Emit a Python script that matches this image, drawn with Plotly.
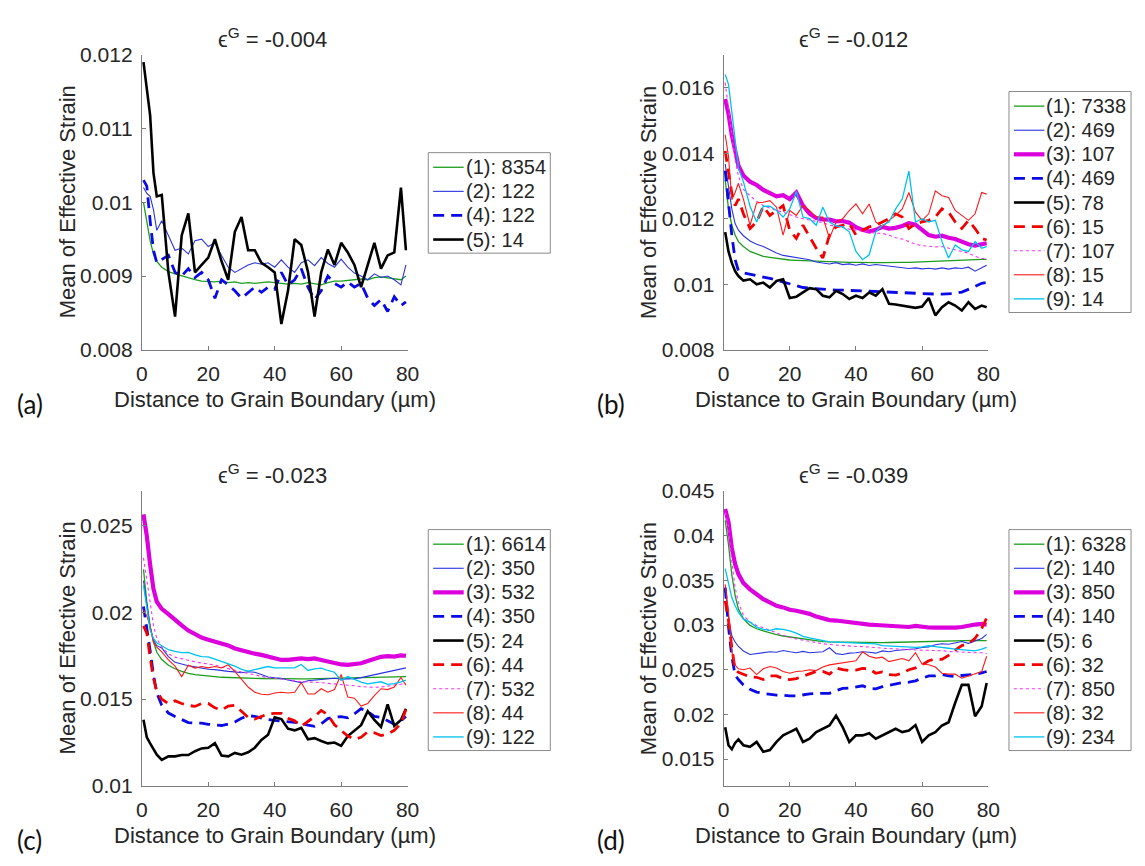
import plotly.graph_objects as go

# ---------------- data ----------------
X = [0.5, 1.5, 2.5, 3.5, 4.5,
     6, 8, 10, 12, 14, 16, 18, 20,
     22, 24, 26, 28, 30, 32, 34, 36,
     38, 40, 42, 44, 46, 48, 50, 52,
     54, 56, 58, 60, 62, 64, 66, 68,
     70, 72, 74, 76, 78,
     79.5]

X_TICKS = [0, 20, 40, 60, 80]

# panel (a)  eps = -0.004
A_KEYS = [1, 2, 4, 5]
A_LABELS = ["(1): 8354", "(2): 122", "(4): 122", "(5): 14"]
A1 = [0.01000, 0.00972, 0.00948, 0.00930, 0.00920,
      0.00912, 0.00906, 0.00903, 0.00900, 0.00897, 0.00895, 0.00893, 0.00892,
      0.00892, 0.00893, 0.00891, 0.00892, 0.00890, 0.00891, 0.00890, 0.00891,
      0.00892, 0.00891, 0.00890, 0.00889, 0.00890, 0.00889, 0.00891, 0.00889,
      0.00888, 0.00891, 0.00893, 0.00893, 0.00894, 0.00895, 0.00896, 0.00895,
      0.00898, 0.00899, 0.00898, 0.00896, 0.00895,
      0.00900]
A2 = [0.01020, 0.01012, 0.01008, 0.00990, 0.00962,
      0.00975, 0.00955, 0.00935, 0.00938, 0.00930, 0.00948, 0.00950, 0.00940,
      0.00945, 0.00928, 0.00912, 0.00905, 0.00910, 0.00915, 0.00918, 0.00916,
      0.00918, 0.00912, 0.00922, 0.00912, 0.00905, 0.00918, 0.00922, 0.00914,
      0.00925, 0.00917, 0.00912, 0.00923, 0.00912, 0.00904, 0.00900, 0.00895,
      0.00903, 0.00898, 0.00900, 0.00895, 0.00888,
      0.00915]
A4 = [0.01030, 0.01022, 0.00975, 0.00935, 0.00918,
      0.00922, 0.00928, 0.00905, 0.00900, 0.00910, 0.00898, 0.00905, 0.00895,
      0.00870, 0.00895, 0.00888, 0.00880, 0.00870, 0.00878, 0.00885, 0.00878,
      0.00885, 0.00882, 0.00905, 0.00888, 0.00895, 0.00910, 0.00885, 0.00868,
      0.00880, 0.00900, 0.00890, 0.00885, 0.00892, 0.00885, 0.00890, 0.00870,
      0.00860, 0.00868, 0.00852, 0.00872, 0.00860,
      0.00865]
A5 = [0.01190, 0.01155, 0.01118, 0.01040, 0.01008,
      0.01010, 0.00905, 0.00845, 0.00955, 0.00985, 0.00905, 0.00915, 0.00925,
      0.00950, 0.00920, 0.00895, 0.00960, 0.00980, 0.00935, 0.00935, 0.00918,
      0.00912, 0.00905, 0.00835, 0.00880, 0.00950, 0.00942, 0.00906, 0.00845,
      0.00905, 0.00936, 0.00915, 0.00945, 0.00932, 0.00915, 0.00885, 0.00915,
      0.00945, 0.00910, 0.00928, 0.00932, 0.01020,
      0.00935]

# panel (b)  eps = -0.012
B_KEYS = [1, 2, 3, 4, 5, 6, 7, 8, 9]
B_LABELS = ["(1): 7338", "(2): 469", "(3): 107", "(4): 469", "(5): 78",
            "(6): 15", "(7): 107", "(8): 15", "(9): 14"]
B1 = [0.01318, 0.01230, 0.01180, 0.01150, 0.01130,
      0.01115, 0.01100, 0.01092, 0.01085, 0.01082, 0.01079, 0.01076, 0.01074,
      0.01073, 0.01072, 0.01071, 0.01070, 0.01069, 0.01068, 0.01068, 0.01067,
      0.01067, 0.01067, 0.01066, 0.01066, 0.01066, 0.01066, 0.01067, 0.01067,
      0.01067, 0.01067, 0.01068, 0.01068, 0.01068, 0.01069, 0.01070, 0.01071,
      0.01072, 0.01073, 0.01074, 0.01075, 0.01076,
      0.01076]
B2 = [0.01367, 0.01300, 0.01230, 0.01185, 0.01165,
      0.01148, 0.01132, 0.01122, 0.01115, 0.01105, 0.01095, 0.01088, 0.01085,
      0.01082, 0.01080, 0.01075, 0.01068, 0.01065, 0.01062, 0.01066, 0.01060,
      0.01062, 0.01058, 0.01062, 0.01057, 0.01060, 0.01058, 0.01056, 0.01053,
      0.01052, 0.01048, 0.01050, 0.01047, 0.01049, 0.01046, 0.01050, 0.01046,
      0.01050, 0.01048, 0.01052, 0.01040, 0.01050,
      0.01058]
B3 = [0.01565, 0.01520, 0.01455, 0.01400, 0.01362,
      0.01332, 0.01313, 0.01303, 0.01288, 0.01278, 0.01268, 0.01272, 0.01260,
      0.01280, 0.01240, 0.01215, 0.01202, 0.01198, 0.01197, 0.01192, 0.01193,
      0.01188, 0.01174, 0.01166, 0.01161, 0.01166, 0.01175, 0.01170, 0.01172,
      0.01178, 0.01186, 0.01182, 0.01165, 0.01150, 0.01145, 0.01148, 0.01142,
      0.01138, 0.01130, 0.01122, 0.01118, 0.01122,
      0.01125]
B4 = [0.01347, 0.01240, 0.01150, 0.01075, 0.01041,
      0.01035, 0.01030, 0.01025, 0.01022, 0.01018, 0.01012, 0.01008, 0.01000,
      0.00995, 0.00990, 0.00988, 0.00986, 0.00985, 0.00983, 0.00982, 0.00982,
      0.00981, 0.00981, 0.00980, 0.00980, 0.00979, 0.00978, 0.00977, 0.00976,
      0.00975, 0.00974, 0.00973, 0.00972, 0.00971, 0.00970, 0.00970, 0.00970,
      0.00972, 0.00976, 0.00984, 0.00993, 0.01003,
      0.01005]
B5 = [0.01159, 0.01100, 0.01065, 0.01040, 0.01025,
      0.01011, 0.01015, 0.01000, 0.01005, 0.00990, 0.01010, 0.01015, 0.00958,
      0.00962, 0.00975, 0.00988, 0.00985, 0.00965, 0.00960, 0.00980, 0.00970,
      0.00955, 0.00965, 0.00958, 0.00975, 0.00965, 0.00985, 0.00940, 0.00938,
      0.00935, 0.00932, 0.00928, 0.00932, 0.00958, 0.00905, 0.00930, 0.00945,
      0.00935, 0.00920, 0.00945, 0.00925, 0.00935,
      0.00930]
B6 = [0.01407, 0.01340, 0.01278, 0.01240, 0.01260,
      0.01215, 0.01170, 0.01190, 0.01238, 0.01210, 0.01225, 0.01240, 0.01165,
      0.01140, 0.01180, 0.01145, 0.01110, 0.01080, 0.01150, 0.01175, 0.01180,
      0.01185, 0.01150, 0.01165, 0.01175, 0.01180, 0.01190, 0.01200, 0.01215,
      0.01205, 0.01170, 0.01185, 0.01190, 0.01195, 0.01205, 0.01230, 0.01220,
      0.01190, 0.01170, 0.01195, 0.01170, 0.01140,
      0.01135]
B7 = [0.01615, 0.01540, 0.01450, 0.01380, 0.01330,
      0.01290, 0.01270, 0.01253, 0.01240, 0.01232, 0.01225, 0.01220, 0.01212,
      0.01205, 0.01200, 0.01195, 0.01192, 0.01188, 0.01180, 0.01178, 0.01172,
      0.01168, 0.01165, 0.01162, 0.01158, 0.01156, 0.01155, 0.01150, 0.01142,
      0.01138, 0.01130, 0.01122, 0.01118, 0.01115, 0.01114, 0.01115, 0.01110,
      0.01105, 0.01100, 0.01095, 0.01085, 0.01078,
      0.01080]
B8 = [0.01456, 0.01390, 0.01258, 0.01280, 0.01308,
      0.01260, 0.01180, 0.01248, 0.01250, 0.01255, 0.01235, 0.01150, 0.01225,
      0.01210, 0.01240, 0.01225, 0.01205, 0.01205, 0.01140, 0.01190, 0.01200,
      0.01225, 0.01245, 0.01215, 0.01245, 0.01190, 0.01175, 0.01195, 0.01210,
      0.01230, 0.01280, 0.01220, 0.01195, 0.01215, 0.01285, 0.01270, 0.01265,
      0.01225, 0.01210, 0.01195, 0.01215, 0.01280,
      0.01275]
B9 = [0.01640, 0.01610, 0.01526, 0.01430, 0.01355,
      0.01313, 0.01238, 0.01190, 0.01238, 0.01238, 0.01225, 0.01205, 0.01230,
      0.01283, 0.01205, 0.01200, 0.01180, 0.01235, 0.01190, 0.01178, 0.01175,
      0.01160, 0.01100, 0.01075, 0.01090, 0.01160, 0.01180, 0.01190, 0.01230,
      0.01260, 0.01345, 0.01190, 0.01200, 0.01190, 0.01195, 0.01130, 0.01080,
      0.01120, 0.01105, 0.01100, 0.01130, 0.01110,
      0.01115]

# panel (c)  eps = -0.023
C_KEYS = [1, 2, 3, 4, 5, 6, 7, 8, 9]
C_LABELS = ["(1): 6614", "(2): 350", "(3): 532", "(4): 350", "(5): 24",
            "(6): 44", "(7): 532", "(8): 44", "(9): 122"]
C1 = [0.02248, 0.02060, 0.01920, 0.01830, 0.01770,
      0.01728, 0.01695, 0.01675, 0.01660, 0.01648, 0.01641, 0.01636, 0.01633,
      0.01630, 0.01626, 0.01624, 0.01622, 0.01621, 0.01620, 0.01620, 0.01619,
      0.01618, 0.01618, 0.01617, 0.01617, 0.01617, 0.01617, 0.01617, 0.01618,
      0.01618, 0.01619, 0.01620, 0.01621, 0.01622, 0.01623, 0.01624, 0.01625,
      0.01627, 0.01628, 0.01629, 0.01630, 0.01630,
      0.01630]
C2 = [0.02183, 0.02060, 0.01915, 0.01840, 0.01808,
      0.01795, 0.01745, 0.01712, 0.01700, 0.01692, 0.01686, 0.01677, 0.01672,
      0.01670, 0.01664, 0.01660, 0.01657, 0.01652, 0.01658, 0.01655, 0.01642,
      0.01628, 0.01623, 0.01620, 0.01610, 0.01602, 0.01595, 0.01606, 0.01610,
      0.01614, 0.01618, 0.01620, 0.01615, 0.01615, 0.01618, 0.01624, 0.01632,
      0.01640, 0.01647, 0.01655, 0.01665, 0.01675,
      0.01680]
C3 = [0.02565, 0.02440, 0.02275, 0.02135, 0.02062,
      0.02020, 0.01990, 0.01955, 0.01925, 0.01895, 0.01875, 0.01855, 0.01842,
      0.01833, 0.01825, 0.01810, 0.01792, 0.01780, 0.01770, 0.01762, 0.01755,
      0.01745, 0.01735, 0.01726, 0.01726, 0.01730, 0.01735, 0.01731, 0.01735,
      0.01726, 0.01716, 0.01710, 0.01700, 0.01698, 0.01702, 0.01707, 0.01720,
      0.01735, 0.01744, 0.01748, 0.01745, 0.01752,
      0.01750]
C4 = [0.02034, 0.01920, 0.01780, 0.01640, 0.01535,
      0.01465, 0.01420, 0.01400, 0.01382, 0.01365, 0.01362, 0.01362, 0.01355,
      0.01350, 0.01348, 0.01356, 0.01368, 0.01390, 0.01405, 0.01400, 0.01390,
      0.01382, 0.01378, 0.01374, 0.01371, 0.01368, 0.01362, 0.01350, 0.01343,
      0.01358, 0.01388, 0.01396, 0.01399, 0.01392, 0.01415, 0.01445, 0.01428,
      0.01400, 0.01395, 0.01375, 0.01355, 0.01375,
      0.01400]
C5 = [0.01381, 0.01280, 0.01245, 0.01213, 0.01180,
      0.01150, 0.01170, 0.01170, 0.01178, 0.01178, 0.01200, 0.01216, 0.01220,
      0.01246, 0.01175, 0.01170, 0.01190, 0.01180, 0.01194, 0.01220, 0.01265,
      0.01295, 0.01395, 0.01385, 0.01330, 0.01320, 0.01334, 0.01269, 0.01275,
      0.01259, 0.01245, 0.01250, 0.01231, 0.01287, 0.01320, 0.01350, 0.01430,
      0.01380, 0.01340, 0.01470, 0.01345, 0.01380,
      0.01445]
C6 = [0.01922, 0.01880, 0.01740, 0.01620, 0.01545,
      0.01500, 0.01474, 0.01490, 0.01475, 0.01464, 0.01458, 0.01475, 0.01475,
      0.01450, 0.01437, 0.01460, 0.01465, 0.01430, 0.01395, 0.01385, 0.01400,
      0.01415, 0.01418, 0.01418, 0.01390, 0.01375, 0.01343, 0.01371, 0.01399,
      0.01435, 0.01410, 0.01352, 0.01318, 0.01287, 0.01268, 0.01280, 0.01312,
      0.01306, 0.01290, 0.01300, 0.01320, 0.01360,
      0.01440]
C7 = [0.02314, 0.02200, 0.02060, 0.01925, 0.01850,
      0.01800, 0.01760, 0.01742, 0.01732, 0.01724, 0.01715, 0.01708, 0.01702,
      0.01697, 0.01685, 0.01675, 0.01665, 0.01655, 0.01648, 0.01640, 0.01632,
      0.01623, 0.01620, 0.01617, 0.01612, 0.01605, 0.01600, 0.01598, 0.01598,
      0.01595, 0.01590, 0.01586, 0.01583, 0.01580, 0.01577, 0.01572, 0.01568,
      0.01568, 0.01570, 0.01575, 0.01578, 0.01585,
      0.01590]
C8 = [0.02015, 0.01980, 0.01920, 0.01828, 0.01800,
      0.01772, 0.01726, 0.01690, 0.01630, 0.01695, 0.01679, 0.01688, 0.01680,
      0.01688, 0.01680, 0.01698, 0.01660, 0.01615, 0.01570, 0.01540, 0.01528,
      0.01525, 0.01535, 0.01540, 0.01535, 0.01540, 0.01595, 0.01530, 0.01530,
      0.01560, 0.01540, 0.01555, 0.01642, 0.01512, 0.01505, 0.01460, 0.01475,
      0.01520, 0.01560, 0.01555, 0.01570, 0.01625,
      0.01580]
C9 = [0.02155, 0.02030, 0.01900, 0.01850, 0.01825,
      0.01808, 0.01785, 0.01775, 0.01768, 0.01770, 0.01755, 0.01745, 0.01744,
      0.01730, 0.01716, 0.01705, 0.01690, 0.01672, 0.01662, 0.01670, 0.01680,
      0.01688, 0.01680, 0.01680, 0.01679, 0.01680, 0.01700, 0.01665, 0.01675,
      0.01679, 0.01665, 0.01655, 0.01608, 0.01630, 0.01614, 0.01598, 0.01588,
      0.01592, 0.01600, 0.01585, 0.01590, 0.01600,
      0.01610]

# panel (d)  eps = -0.039
D_KEYS = [1, 2, 3, 4, 5, 6, 7, 8, 9]
D_LABELS = ["(1): 6328", "(2): 140", "(3): 850", "(4): 140", "(5): 6",
            "(6): 32", "(7): 850", "(8): 32", "(9): 234"]
D1 = [0.04170, 0.03900, 0.03564, 0.03330, 0.03180,
      0.03070, 0.02995, 0.02958, 0.02935, 0.02910, 0.02893, 0.02877, 0.02866,
      0.02858, 0.02848, 0.02838, 0.02828, 0.02815, 0.02812, 0.02810, 0.02808,
      0.02806, 0.02804, 0.02802, 0.02800, 0.02800, 0.02802, 0.02804, 0.02806,
      0.02808, 0.02810, 0.02812, 0.02813, 0.02815, 0.02817, 0.02820, 0.02822,
      0.02825, 0.02828, 0.02830, 0.02828, 0.02825,
      0.02825]
D2 = [0.03417, 0.03087, 0.02880, 0.02810, 0.02760,
      0.02710, 0.02670, 0.02680, 0.02690, 0.02700, 0.02695, 0.02715, 0.02700,
      0.02690, 0.02705, 0.02690, 0.02695, 0.02700, 0.02745, 0.02680, 0.02670,
      0.02685, 0.02690, 0.02700, 0.02695, 0.02685, 0.02710, 0.02700, 0.02715,
      0.02720, 0.02725, 0.02735, 0.02748, 0.02755, 0.02780, 0.02790, 0.02785,
      0.02800, 0.02815, 0.02795, 0.02820, 0.02850,
      0.02895]
D3 = [0.04298, 0.04150, 0.03860, 0.03680, 0.03570,
      0.03470, 0.03399, 0.03344, 0.03289, 0.03252, 0.03215, 0.03197, 0.03170,
      0.03160, 0.03142, 0.03125, 0.03094, 0.03070, 0.03055, 0.03050, 0.03040,
      0.03030, 0.03015, 0.03008, 0.03005, 0.03000, 0.02995, 0.02988, 0.02980,
      0.02975, 0.02978, 0.02990, 0.02978, 0.02972, 0.02970, 0.02970, 0.02965,
      0.02970, 0.02978, 0.02995, 0.03005, 0.03012,
      0.03005]
D4 = [0.03417, 0.02980, 0.02650, 0.02440, 0.02390,
      0.02330, 0.02280, 0.02250, 0.02235, 0.02225, 0.02215, 0.02215, 0.02206,
      0.02206, 0.02220, 0.02230, 0.02236, 0.02236, 0.02236, 0.02265, 0.02290,
      0.02295, 0.02310, 0.02320, 0.02290, 0.02285, 0.02310, 0.02325, 0.02335,
      0.02355, 0.02360, 0.02375, 0.02405, 0.02430, 0.02430, 0.02445, 0.02430,
      0.02425, 0.02435, 0.02440, 0.02450, 0.02465,
      0.02480]
D5 = [0.01857, 0.01655, 0.01610, 0.01680, 0.01720,
      0.01655, 0.01637, 0.01692, 0.01582, 0.01600, 0.01692, 0.01765, 0.01802,
      0.01839, 0.01692, 0.01728, 0.01802, 0.01839, 0.01876, 0.01986, 0.01857,
      0.01692, 0.01765, 0.01765, 0.01790, 0.01728, 0.01765, 0.01802, 0.01839,
      0.01802, 0.01820, 0.01880, 0.01692, 0.01765, 0.01800, 0.01876, 0.01912,
      0.02130, 0.02330, 0.02330, 0.01980, 0.02090,
      0.02350]
D6 = [0.03270, 0.03050, 0.02750, 0.02500, 0.02470,
      0.02445, 0.02420, 0.02415, 0.02390, 0.02430, 0.02430, 0.02400, 0.02390,
      0.02400, 0.02425, 0.02455, 0.02480, 0.02480, 0.02450, 0.02520, 0.02500,
      0.02490, 0.02495, 0.02515, 0.02510, 0.02460, 0.02475, 0.02445, 0.02440,
      0.02460, 0.02500, 0.02520, 0.02555, 0.02600, 0.02620, 0.02615, 0.02660,
      0.02720, 0.02770, 0.02790, 0.02850, 0.02960,
      0.03080]
D7 = [0.04261, 0.04100, 0.03711, 0.03420, 0.03250,
      0.03110, 0.03032, 0.02995, 0.02970, 0.02945, 0.02912, 0.02885, 0.02860,
      0.02845, 0.02830, 0.02820, 0.02800, 0.02790, 0.02782, 0.02775, 0.02768,
      0.02765, 0.02760, 0.02758, 0.02755, 0.02748, 0.02740, 0.02738, 0.02736,
      0.02732, 0.02725, 0.02720, 0.02718, 0.02720, 0.02718, 0.02712, 0.02705,
      0.02700, 0.02695, 0.02690, 0.02690, 0.02690,
      0.02680]
D8 = [0.03454, 0.03150, 0.02700, 0.02550, 0.02510,
      0.02500, 0.02518, 0.02445, 0.02510, 0.02535, 0.02520, 0.02480, 0.02460,
      0.02480, 0.02485, 0.02500, 0.02490, 0.02530, 0.02554, 0.02565, 0.02575,
      0.02585, 0.02600, 0.02700, 0.02650, 0.02630, 0.02640, 0.02590, 0.02605,
      0.02625, 0.02600, 0.02690, 0.02560, 0.02555, 0.02530, 0.02460, 0.02450,
      0.02450, 0.02405, 0.02430, 0.02450, 0.02480,
      0.02650]
D9 = [0.03630, 0.03480, 0.03307, 0.03215, 0.03142,
      0.03068, 0.03032, 0.02977, 0.02950, 0.02940, 0.02958, 0.02950, 0.02935,
      0.02910, 0.02874, 0.02855, 0.02840, 0.02830, 0.02812, 0.02808, 0.02805,
      0.02800, 0.02798, 0.02796, 0.02795, 0.02790, 0.02770, 0.02765, 0.02760,
      0.02756, 0.02752, 0.02750, 0.02756, 0.02768, 0.02758, 0.02745, 0.02740,
      0.02730, 0.02722, 0.02715, 0.02710, 0.02730,
      0.02750]

Y_TICKS_A = [0.008, 0.009, 0.010, 0.011, 0.012]
Y_TEXT_A = ["0.008", "0.009", "0.01", "0.011", "0.012"]
Y_TICKS_B = [0.008, 0.010, 0.012, 0.014, 0.016]
Y_TEXT_B = ["0.008", "0.01", "0.012", "0.014", "0.016"]
Y_TICKS_C = [0.010, 0.015, 0.020, 0.025]
Y_TEXT_C = ["0.01", "0.015", "0.02", "0.025"]
Y_TICKS_D = [0.015, 0.020, 0.025, 0.030, 0.035, 0.040, 0.045]
Y_TEXT_D = ["0.015", "0.02", "0.025", "0.03", "0.035", "0.04", "0.045"]

TITLES = ["ϵ<sup>G</sup> = -0.004", "ϵ<sup>G</sup> = -0.012",
          "ϵ<sup>G</sup> = -0.023", "ϵ<sup>G</sup> = -0.039"]
TAGS = ["(a)", "(b)", "(c)", "(d)"]
X_TITLE = "Distance to Grain Boundary (µm)"
Y_TITLE = "Mean of Effective Strain"

# ---------------- styles ----------------
STYLE = {
    1: dict(color="#1c9e1c", width=1.3, dash="solid"),
    2: dict(color="#2a35e0", width=1.1, dash="solid"),
    3: dict(color="#dc00dc", width=4.2, dash="solid"),
    4: dict(color="#0a0ae6", width=2.8, dash="11px,7px"),
    5: dict(color="#000000", width=2.6, dash="solid"),
    6: dict(color="#f20000", width=2.8, dash="11px,7px"),
    7: dict(color="#ff2cff", width=1.1, dash="3px,3px"),
    8: dict(color="#ff1a1a", width=1.1, dash="solid"),
    9: dict(color="#00c2ee", width=1.3, dash="solid"),
}

W, H = 1145, 866
FONT = "Liberation Sans, Arial, Helvetica, sans-serif"
TXT = "#262626"
AXC = "#7d7d7d"
ROW = 24.75


def fx(px):
    return px / W


def fy(py):
    return 1 - py / H


PANELS = [
    dict(series=[A1, A2, A4, A5], keys=A_KEYS, labels=A_LABELS, yr=[0.008, 0.012],
         yt=Y_TICKS_A, ytt=Y_TEXT_A, box=(138, 408, 44, 347), leg=(429, 159.5), ax=""),
    dict(series=[B1, B2, B3, B4, B5, B6, B7, B8, B9], keys=B_KEYS, labels=B_LABELS,
         yr=[0.008, 0.017], yt=Y_TICKS_B, ytt=Y_TEXT_B, box=(729, 998, 44, 347),
         leg=(1019, 96.7), ax="2"),
    dict(series=[C1, C2, C3, C4, C5, C6, C7, C8, C9], keys=C_KEYS, labels=C_LABELS,
         yr=[0.010, 0.027], yt=Y_TICKS_C, ytt=Y_TEXT_C, box=(138, 408, 492, 795),
         leg=(429, 546.7), ax="3"),
    dict(series=[D1, D2, D3, D4, D5, D6, D7, D8, D9], keys=D_KEYS, labels=D_LABELS,
         yr=[0.012, 0.045], yt=Y_TICKS_D, ytt=Y_TEXT_D, box=(729, 998, 492, 795),
         leg=(1019, 546.7), ax="4"),
]

fig = go.Figure()
layout = dict(width=W, height=H, margin=dict(l=0, r=0, t=0, b=0),
              paper_bgcolor="white", plot_bgcolor="white", showlegend=False,
              font=dict(family=FONT, color=TXT))
annotations = []
shapes = []

for i, p in enumerate(PANELS):
    ax = p["ax"]
    x0, x1, y0, y1 = p["box"]
    for vals, k, lab in zip(p["series"], p["keys"], p["labels"]):
        st = STYLE[k]
        fig.add_trace(go.Scatter(
            x=X, y=vals, mode="lines", name=lab,
            line=dict(color=st["color"], width=st["width"], dash=st["dash"]),
            xaxis="x" + ax, yaxis="y" + ax, hoverinfo="skip", showlegend=False))
    common = dict(showline=True, linecolor=AXC, linewidth=1, mirror=False,
                  ticks="inside", ticklen=4, tickcolor=AXC, showgrid=False,
                  zeroline=False, tickfont=dict(size=21, color=TXT, family=FONT))
    layout["xaxis" + ax] = dict(domain=[fx(x0), fx(x1)], range=[0, 80],
                                tickvals=X_TICKS, anchor="y" + ax,
                                ticklabelstandoff=5, **common)
    layout["yaxis" + ax] = dict(domain=[fy(y1), fy(y0)], range=p["yr"],
                                tickvals=p["yt"], ticktext=p["ytt"],
                                anchor="x" + ax, ticklabelstandoff=4, **common)

    # legend drawn as a box with line samples and text entries
    lx, ly = p["leg"]
    n = len(p["keys"])
    shapes.append(dict(type="rect", xref="paper", yref="paper",
                       x0=fx(lx), x1=fx(lx + 124), y0=fy(ly - 15),
                       y1=fy(ly + (n - 1) * ROW + 14),
                       line=dict(color="#8a8a8a", width=1), fillcolor="white",
                       layer="above"))
    for j, (k, lab) in enumerate(zip(p["keys"], p["labels"])):
        st = STYLE[k]
        ry = ly + j * ROW
        shapes.append(dict(type="line", xref="paper", yref="paper",
                           x0=fx(lx + 5), x1=fx(lx + 36), y0=fy(ry), y1=fy(ry),
                           line=dict(color=st["color"], width=st["width"],
                                     dash=st["dash"]), layer="above"))
        annotations.append(dict(text=lab, x=fx(lx + 36), y=fy(ry), xref="paper",
                                yref="paper", showarrow=False, xanchor="left",
                                yanchor="middle",
                                font=dict(size=20, color=TXT, family=FONT)))

    cx = (x0 + x1) / 2
    annotations.append(dict(text=TITLES[i], x=fx(cx - 2), y=fy(y0 - 17), xref="paper",
                            yref="paper", showarrow=False, xanchor="center",
                            yanchor="middle", font=dict(size=22, color=TXT, family=FONT)))
    annotations.append(dict(text=X_TITLE, x=fx(cx), y=fy(y1 + 51), xref="paper",
                            yref="paper", showarrow=False, xanchor="center",
                            yanchor="middle", font=dict(size=22, color=TXT, family=FONT)))
    annotations.append(dict(text=Y_TITLE, x=fx(x0 - 76), y=fy((y0 + y1) / 2), xref="paper",
                            yref="paper", showarrow=False, xanchor="center",
                            yanchor="middle", textangle=-90,
                            font=dict(size=22, color=TXT, family=FONT)))
    annotations.append(dict(text=TAGS[i], x=fx(x0 - 114), y=fy(y1 + 56),
                            xref="paper", yref="paper", showarrow=False,
                            xanchor="center", yanchor="middle",
                            font=dict(size=26, color="#111111",
                                      family="Lato, Open Sans, sans-serif")))

layout["annotations"] = annotations
layout["shapes"] = shapes
fig.update_layout(**layout)
fig.write_html("out.html")
